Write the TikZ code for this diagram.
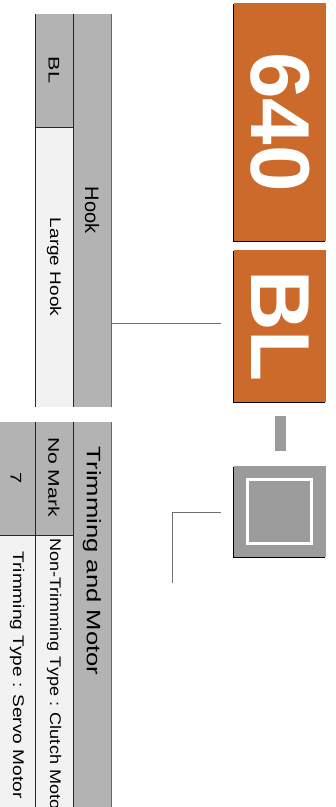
\documentclass[tikz,border=0pt]{standalone}
\usepackage{fontspec}
\setmainfont{Liberation Sans}

\definecolor{codeorange}{HTML}{CC6A2C}
\definecolor{headgray}{HTML}{B3B3B3}
\definecolor{cellwhite}{HTML}{F2F2F2}
\definecolor{boxgray}{HTML}{9B9B9B}
\definecolor{linkgray}{HTML}{707070}

\tikzset{
  celltext/.style={rotate=-90, xscale=#1, inner sep=0pt, font=\fontsize{15.5}{16}\selectfont},
  headtext/.style={rotate=-90, xscale=#1, inner sep=0pt, font=\fontsize{19.5}{20}\selectfont},
  codetext/.style={rotate=-90, inner sep=0pt, text=white, font=\fontsize{84}{84}\selectfont\bfseries},
  cellrule/.style={draw=black!85, line width=1bp},
  headrule/.style={draw=black!60, line width=1bp},
  link/.style={draw=linkgray, line width=1bp},
}

\begin{document}
\begin{tikzpicture}[x=1bp, y=-1bp]
\clip (0,0) rectangle (335,807);

% hook table
\fill[headgray] (73,14) rectangle (111,407);
\fill[headgray] (35,14) rectangle (73,127);
\fill[cellwhite] (35,127) rectangle (73,407);
\draw[cellrule] (35,14) -- (35,407) (73,14) -- (73,407) (35,127) -- (73,127);
\draw[headrule] (111,14) -- (111,407);
\node[headtext=1.03] (hookhead) at (92,210) {Hook};
\node[celltext=1.4] (hookcode) at (54,70) {BL};
\node[celltext=1.23] (hookname) at (54,267) {Large Hook};

% trimming table
\fill[headgray] (73,422) rectangle (111,807);
\fill[headgray] (-3,422) rectangle (73,535);
\fill[cellwhite] (-3,535) rectangle (73,807);
\draw[cellrule] (35,422) -- (35,807) (73,422) -- (73,807) (-3,535) -- (73,535);
\draw[headrule] (111,422) -- (111,807);
\node[headtext=1.32] (trimhead) at (92,561) {Trimming and Motor};
\node[celltext=1.37] (trimmark) at (54,477) {No Mark};
\node[celltext=1.3] (trimcode) at (16,478) {7};
\node[celltext=1.17, anchor=west] (trimnone) at (54,538) {Non-Trimming Type : Clutch Motor};
\node[celltext=1.235] (trimservo) at (17,675) {Trimming Type : Servo Motor};

% code boxes
\fill[black] (233,4) rectangle (325,242);
\fill[codeorange] (234,3) rectangle (326,241);
\node[codetext] (model) at (280,122) {640};

\fill[black] (233,251) rectangle (325,403);
\fill[codeorange] (234,250) rectangle (326,402);
\node[codetext] (hookbox) at (280,326) {BL};

\fill[boxgray] (275,416) rectangle (286,451);

\fill[black] (233,467) rectangle (325,558);
\fill[boxgray] (234,466) rectangle (326,557);
\draw[white, line width=3bp] (247.3,479) rectangle (311.7,543.3);
\coordinate (trimbox) at (234,512);

% connectors
\coordinate (hookport) at (111,323);
\coordinate (hookjoint) at (221,323);
\draw[link] (hookport) -- (hookjoint);

\coordinate (trimport) at (172,583);
\coordinate (trimjoint) at (221,512);
\draw[link] (trimport) |- (trimjoint);

\end{tikzpicture}
\end{document}
